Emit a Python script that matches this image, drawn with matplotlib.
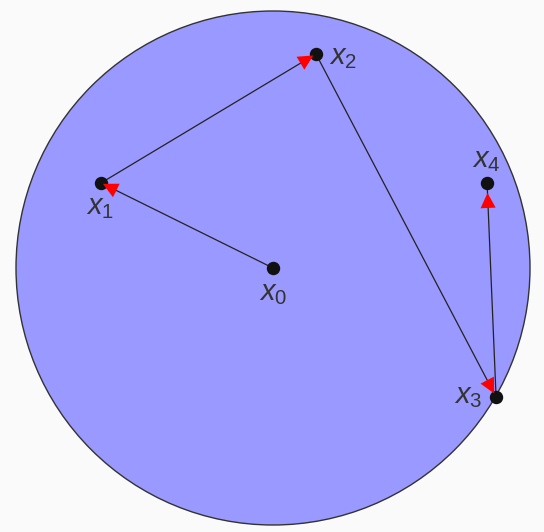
import matplotlib
matplotlib.use("Agg")
import matplotlib.pyplot as plt
from matplotlib.patches import Circle

plt.rcParams['mathtext.fontset'] = 'custom'
plt.rcParams['mathtext.rm'] = 'Liberation Sans'
plt.rcParams['mathtext.it'] = 'Liberation Sans:italic'

# data (unit disc coordinates)
labels = [r"$x_0$", r"$x_1$", r"$x_2$", r"$x_3$", r"$x_4$"]
xs = [0.0, -0.669, 0.167, 0.868, 0.833]
ys = [0.0, 0.331, 0.833, -0.502, 0.331]
# label offsets in pixels (dx, dy)
label_off = [(0, -25), (-1, -24), (27, -3), (-28, 1), (-1, 23)]
tip_shrink = [3, 2, 3, 4, 10]

W, H, DPI = 544, 532, 100
fig = plt.figure(figsize=(W / DPI, H / DPI), dpi=DPI)
fig.patch.set_facecolor('#fafafa')
ax = fig.add_axes([0, 0, 1, 1])
ax.set_facecolor('#fafafa')
scale = 257.0
cx, cy = 273.0, H - 268.0
ax.set_xlim(-cx / scale, (W - cx) / scale)
ax.set_ylim(-cy / scale, (H - cy) / scale)
ax.axis('off')

ax.add_patch(Circle((0, 0), 1.0, facecolor='#9999ff', edgecolor='#333333', lw=1.0, zorder=1))

px = 72.0 / DPI
for i in range(len(xs) - 1):
    ax.plot([xs[i], xs[i + 1]], [ys[i], ys[i + 1]], color='#222222', lw=0.9, zorder=2)
    ax.annotate('', xy=(xs[i + 1], ys[i + 1]), xytext=(xs[i], ys[i]),
                arrowprops=dict(arrowstyle='-|>,head_length=%.2f,head_width=%.2f' % (15 * px, 7.5 * px),
                                mutation_scale=1, color='red', lw=0.01,
                                shrinkA=0, shrinkB=tip_shrink[i + 1] * px),
                zorder=4)

ax.plot(xs, ys, 'o', color='#111111', markersize=12 * px, zorder=3, linestyle='none')

for i in range(len(xs)):
    dx, dy = label_off[i]
    ax.annotate(labels[i], xy=(xs[i], ys[i]), xytext=(dx * px, dy * px), textcoords='offset points',
                ha='center', va='center', fontsize=21, color='#333333', zorder=5)

fig.savefig('out.png', dpi=DPI, facecolor=fig.get_facecolor())
